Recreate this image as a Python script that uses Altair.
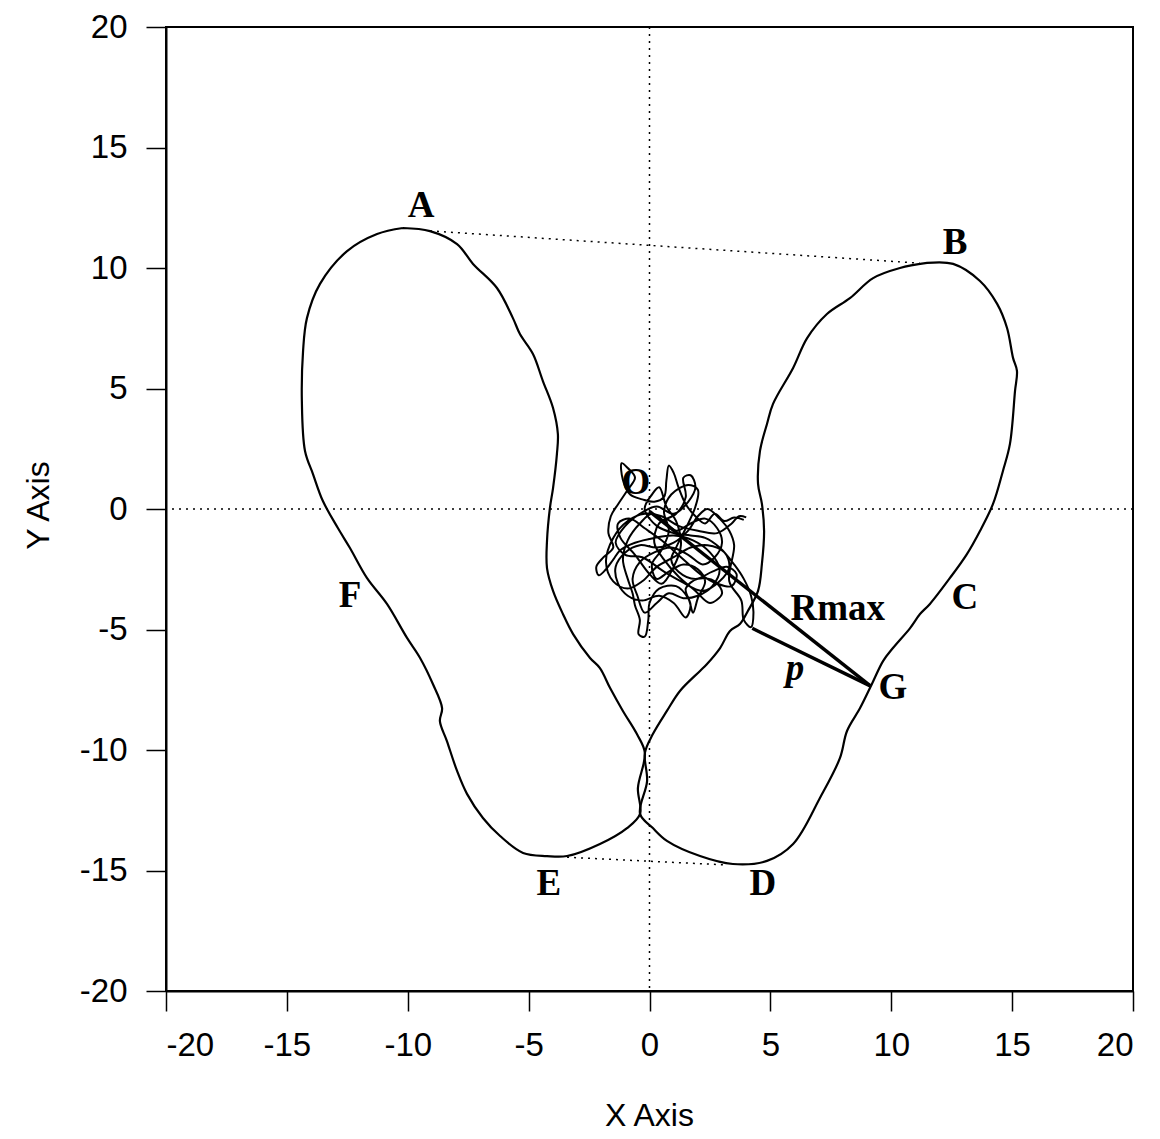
import altair as alt
import pandas as pd

# Left loop outline (data units), clockwise from A
left_x = [-10.20, -9.08, -7.96, -7.30, -6.31, -5.65, -5.36, -4.82, -4.41, -3.99, -3.79, -3.83, -3.99, -4.12,
          -4.24, -4.24, -3.99, -3.58, -3.16, -2.46, -2.05, -1.63, -1.10, -0.52, -0.19, -0.48, -0.39,
          -0.93, -2.05, -3.41, -4.24, -5.23, -6.18, -6.89, -7.55, -7.96, -8.38, -8.67, -8.58, -8.96,
          -9.49, -10.03, -10.86, -11.69, -12.39, -12.89, -13.51, -13.92, -14.25, -14.38, -14.33,
          -14.17, -13.63, -12.51, -11.27, -10.20]
left_y = [11.66, 11.53, 10.99, 10.17, 9.17, 7.92, 7.26, 6.43, 5.31, 4.19, 3.11, 2.28, 0.87, 0.04,
          -1.33, -2.45, -3.40, -4.36, -5.19, -6.18, -6.60, -7.43, -8.38, -9.34, -10.12, -11.58, -12.65,
          -13.24, -13.90, -14.40, -14.40, -14.27, -13.57, -12.82, -11.82, -10.87, -9.63, -8.80, -8.26, -7.26,
          -6.18, -5.35, -3.94, -2.86, -1.62, -0.79, 0.33, 1.45, 2.41, 4.48, 6.56,
          7.92, 9.34, 10.70, 11.41, 11.66]

# Right loop outline, clockwise from B
right_x = [11.48, 12.56, 13.67, 14.38, 14.79, 15.04, 15.20, 15.12, 14.91, 14.62, 14.21, 13.67, 13.13,
           12.43, 11.60, 11.19, 10.78, 10.07, 9.66, 9.20, 8.71, 8.17, 7.88, 7.05, 5.94, 4.86, 3.45,
           2.09, 0.72, 0.14, -0.39, -0.10, -0.19, 0.14, 0.72, 1.26, 2.09, 2.38, 2.92, 3.33, 3.74,
           4.07, 4.49, 4.65, 4.74, 4.65, 4.49, 4.57, 4.86, 5.11, 5.94, 6.52, 7.34, 8.29, 9.25, 10.36, 11.48]
right_y = [10.21, 10.17, 9.46, 8.51, 7.51, 6.26, 5.73, 4.90, 2.70, 1.58, 0.21, -0.91, -1.87,
           -2.86, -3.94, -4.36, -4.94, -5.77, -6.31, -7.26, -8.26, -9.21, -10.33, -11.99, -13.90, -14.60, -14.73,
           -14.40, -13.77, -13.24, -12.65, -11.29, -10.12, -9.34, -8.38, -7.55, -6.72, -6.43, -5.77, -5.06, -4.77,
           -4.23, -3.40, -2.28, -0.91, 0.21, 1.04, 2.41, 3.53, 4.36, 5.85, 7.09, 8.09, 8.75, 9.58, 10.00, 10.21]

# Central sway trace
sway_x = [3.9, 3.5, 3.1, 2.7, 2.3, 1.9, 1.5, 1.2, 1.0, 0.8, 0.7, 0.6, 0.2, -0.3, -0.8, -1.1, -1.15, -0.9,
          -0.6, -0.9, -1.3, -1.6, -1.7, -1.5, -1.9, -2.2, -2.1, -1.8, -1.5, -1.2, -0.6, 0.2, 1.0, 1.8,
          2.5, 2.9, 2.6, 2.0, 1.4, 0.8, 0.3, -0.2, -0.5, -0.7, -0.4, 0.2, 0.9, 1.6, 2.2, 2.7, 3.0, 2.8,
          2.3, 1.7, 1.1, 0.6, 0.1, -0.4, -0.9, -1.1, -0.9, -0.7, -0.6, -0.4, -0.45, -0.2, -0.05, 0.0,
          0.4, 1.1, 1.6, 1.8, 2.0, 2.3, 2.0, 1.4, 0.8, 0.3, 0.1, 0.5, 0.8, 0.6, 0.9, 1.6, 2.0, 1.9, 1.5,
          1.1, 0.9, 1.2, 1.9, 2.6, 3.2, 3.6, 3.4, 2.8, 2.1, 1.3, 0.5, -0.2, -0.8, -1.3, -1.2, -0.6, 0.0,
          0.5, 1.0, 1.3, 1.1, 0.7, 0.4, 0.1, -0.2, 0.3, 1.0, 1.7, 2.3, 2.9, 3.5, 3.9, 4.2, 4.3, 4.2,
          3.9, 3.8, 3.3, 3.5, 3.3,
          2.9, 2.4, 2.0, 1.6, 1.0, 0.3, -0.4, -1.0, -1.4, -1.3, -0.9, -0.3, 0.4, 1.0, 1.5, 1.7, 1.5,
          2.0, 2.7, 3.0, 2.5, 1.9, 1.2, 0.6, 0.2, 0.4, 1.1, 1.5, 1.4, 1.7, 1.9, 1.6, 1.0, 0.3, -0.4,
          -1.0, -1.4, -1.0, -0.3, 0.6, 1.3, 2.2, 2.9, 3.3, 3.1, 2.4, 1.7, 1.0, 0.3, -0.3, -0.9, -1.5,
          -1.8, -1.5, -0.9, -0.2, 0.5, 1.2, 2.0, 2.8, 3.4, 3.7, 4.0]
sway_y = [-0.45, -0.35, -0.5, -0.2, -0.6, -0.3, 0.2, 0.9, 1.5, 1.8, 1.2, 0.5, 0.3, 0.4, 0.6, 1.2, 1.9, 1.7,
          1.3, 0.8, 0.2, -0.3, -1.0, -1.6, -2.0, -2.4, -2.75, -2.5, -2.1, -1.7, -1.4, -1.2, -1.1, -1.3,
          -1.8, -2.5, -3.2, -3.6, -3.7, -3.5, -3.9, -4.3, -3.6, -2.9, -2.2, -1.8, -1.6, -1.9, -2.3, -2.0, -1.4, -0.8,
          -0.4, -0.6, -0.9, -0.5, -0.2, -0.6, -1.3, -2.1, -2.9, -3.5, -4.0, -4.6, -5.2, -5.3, -4.6, -3.9,
          -3.3, -3.2, -3.7, -4.3, -3.7, -3.0, -2.5, -2.3, -2.6, -2.9, -2.3, -1.7, -0.9, -0.1, 0.6, 1.0, 0.8, 0.1, -0.8,
          -1.6, -2.1, -2.6, -2.9, -2.6, -2.4, -2.7, -3.2, -3.1, -2.7, -2.0, -1.3, -0.8, -0.4, -0.6, -1.2, -1.9, -2.7,
          -3.1, -2.4, -1.5, -0.5, 0.1, 0.9, 0.6, 0.0, -0.7, -1.0, -1.1, -1.2, -1.6, -2.3, -2.9, -3.6, -4.3, -4.9,
          -4.6, -3.8, -3.0, -1.5, -0.9,
          -0.4, 0.0, -0.3, -0.9, -1.4, -1.6, -1.5, -1.8, -2.4, -3.1, -3.6, -3.8, -3.6, -3.9, -4.5, -4.0, -3.3,
          -2.9, -3.0, -3.5, -3.9, -3.4, -2.8, -2.1, -1.4, -0.6, -0.2, 0.5, 1.3, 1.4, 0.9, 0.3, -0.2, 0.1, -0.2,
          -0.7, -1.4, -1.9, -2.0, -2.6, -3.0, -3.4, -3.0, -2.4, -1.8, -1.5, -1.6, -2.0, -2.4, -3.0, -3.3, -3.0,
          -2.2, -1.2, -0.5, -0.2, -0.3, -0.7, -0.9, -1.0, -0.6, -0.3, -0.35]

# Straight segments
rmax_x = [0.0, 9.15]
rmax_y = [-0.1, -7.35]
p_x = [4.25, 9.15]
p_y = [-4.95, -7.35]
ab_x = [-9.08, 11.18]
ab_y = [11.54, 10.20]
ed_x = [-3.41, 3.20]
ed_y = [-14.45, -14.77]

# Labels
label_text = ["A", "B", "C", "D", "E", "F", "G", "O", "Rmax"]
label_x = [-9.45, 12.64, 13.05, 4.69, -4.16, -12.39, 10.07, -0.56, 7.79]
label_y = [12.57, 11.04, -3.69, -15.56, -15.56, -3.61, -7.43, 1.08, -4.15]
p_label_x = [6.02]
p_label_y = [-6.64]

ticks = [-20, -15, -10, -5, 0, 5, 10, 15, 20]


def make_df(xs, ys, name):
    return pd.DataFrame({"x": xs, "y": ys, "seq": list(range(len(xs))), "series": name})


loops = pd.concat([make_df(left_x, left_y, "left"), make_df(right_x, right_y, "right")])
sway = make_df(sway_x, sway_y, "sway")
thick = pd.concat([make_df(rmax_x, rmax_y, "rmax"), make_df(p_x, p_y, "p")])
dotted = pd.concat([make_df(ab_x, ab_y, "ab"), make_df(ed_x, ed_y, "ed")])
labels = pd.DataFrame({"x": label_x, "y": label_y, "t": label_text})
plabel = pd.DataFrame({"x": p_label_x, "y": p_label_y, "t": ["p"]})

label_expr = "datum.value < 0 ? '-' + abs(datum.value) : '' + datum.value"
xscale = alt.Scale(domain=[-20, 20], nice=False, zero=False)
yscale = alt.Scale(domain=[-20, 20], nice=False, zero=False)
xaxis = alt.Axis(values=ticks, title="X Axis", titleX=483, titleY=124, titleBaseline="middle",
                 labelPadding=18, labelExpr=label_expr)
yaxis = alt.Axis(values=ticks, title="Y Axis", titleX=-128, titleY=478, titleBaseline="middle",
                 titleAlign="center", labelPadding=19, labelExpr=label_expr)

X = alt.X("x:Q", scale=xscale, axis=xaxis)
Y = alt.Y("y:Q", scale=yscale, axis=yaxis)

zero_v = alt.Chart(pd.DataFrame({"v": [0]})).mark_rule(
    color="black", strokeWidth=1.5, strokeDash=[2, 5]).encode(x=alt.X("v:Q", scale=xscale, axis=xaxis))
zero_h = alt.Chart(pd.DataFrame({"v": [0]})).mark_rule(
    color="black", strokeWidth=1.5, strokeDash=[2, 5]).encode(y=alt.Y("v:Q", scale=yscale, axis=yaxis))

dot_layer = alt.Chart(dotted).mark_line(color="black", strokeWidth=1.5, strokeDash=[2, 5]).encode(
    x=X, y=Y, detail="series:N", order="seq:Q")
loop_layer = alt.Chart(loops).mark_line(color="black", strokeWidth=2.2, interpolate="catmull-rom").encode(
    x=X, y=Y, detail="series:N", order="seq:Q")
sway_layer = alt.Chart(sway).mark_line(color="black", strokeWidth=2, interpolate="catmull-rom").encode(
    x=X, y=Y, detail="series:N", order="seq:Q")
thick_layer = alt.Chart(thick).mark_line(color="black", strokeWidth=3.4).encode(
    x=X, y=Y, detail="series:N", order="seq:Q")
text_layer = alt.Chart(labels).mark_text(font="Liberation Serif", fontWeight="bold", fontSize=37,
                                         color="black", align="center", baseline="middle").encode(
    x=X, y=Y, text="t:N")
p_layer = alt.Chart(plabel).mark_text(font="Liberation Serif", fontWeight="bold", fontStyle="italic",
                                      fontSize=37, color="black", align="center", baseline="middle").encode(
    x=X, y=Y, text="t:N")

chart = alt.layer(zero_v, zero_h, dot_layer, loop_layer, sway_layer, thick_layer, text_layer, p_layer).properties(
    width=967, height=964,
    autosize=alt.AutoSizeParams(type="none"),
    padding={"left": 166, "top": 27, "right": 27, "bottom": 148},
    background="white",
).configure_view(stroke="black", strokeWidth=2).configure_axis(
    grid=False, domainColor="black", domainWidth=2, tickColor="black", tickWidth=1.5, tickSize=20,
    labelFont="Liberation Sans", labelFontSize=33, labelColor="black",
    titleFont="Liberation Sans", titleFontSize=32, titleFontWeight="normal", titleColor="black",
)

chart.save("out.html", embed_options={"renderer": "svg", "actions": False})
